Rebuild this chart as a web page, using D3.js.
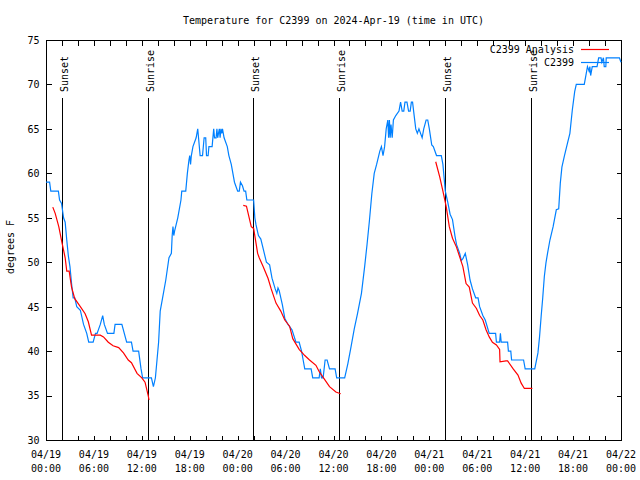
<!DOCTYPE html>
<html><head><meta charset="utf-8">
<script src="https://cdn.jsdelivr.net/npm/d3@7"></script>
<style>
body{margin:0;background:#fff;}
svg{display:block;}
text{font-family:"DejaVu Sans Mono","Liberation Mono",monospace;font-size:10px;fill:#000;}
</style></head>
<body>
<svg id="chart" width="640" height="480"></svg>
<script>
// ---- data (hours after 2024-04-19 00:00 UTC, degrees F) ----
const obsSeries = [[0,59],[0.45,59],[0.6,58],[1.55,58],[1.7,57],[1.95,56.6],[2.2,55],[2.4,54.5],[2.6,52.5],[2.8,50.7],[3.0,49.5],[3.2,47.6],[3.4,46],[3.6,46],[3.85,45],[4.3,44.6],[4.7,43],[5.1,42],[5.35,41],[5.9,41],[6.2,42],[6.4,42],[6.8,43],[7.1,44],[7.3,43],[7.7,42],[8.5,42],[8.65,43],[9.5,43],[10.1,41],[10.7,41],[10.9,40],[11.6,40],[11.9,38],[12.1,37],[13.2,37],[13.45,36],[13.7,37],[13.9,39],[14.1,41],[14.3,44.5],[14.6,46],[15.0,48],[15.4,50.5],[15.7,51],[15.8,53],[15.9,54],[16.0,53],[16.1,53.5],[16.5,55],[16.9,57],[17.0,58],[17.5,58],[17.7,60],[17.9,61.5],[18.0,62],[18.1,61],[18.2,62],[18.4,63],[18.8,64],[19.0,65],[19.1,64],[19.3,62],[19.6,62],[19.8,64],[20.0,64],[20.1,62],[20.3,62],[20.4,63],[20.8,63],[21.0,65],[21.1,64],[21.3,64],[21.4,65],[21.5,64],[21.7,65],[21.8,64],[21.9,65],[22.0,64.5],[22.1,65],[22.3,64],[22.7,63],[22.9,62],[23.2,61],[23.6,59],[24.0,58],[24.2,58],[24.35,59],[24.6,58.6],[24.8,58],[25.0,58],[25.15,57],[26.0,57],[26.15,55],[26.3,54.2],[26.6,53],[26.9,52.6],[27.2,51.5],[27.6,50],[28.0,49.7],[28.3,48.2],[28.7,47],[28.9,46.5],[29.05,47.1],[29.2,46.8],[29.6,45.2],[29.9,43.7],[30.3,43],[30.8,42.4],[31.3,41],[31.7,41],[32.0,40],[32.2,39],[32.4,38],[33.2,38],[33.4,37],[34.2,37],[34.35,38],[34.5,37],[34.7,37],[34.95,39],[35.2,39],[35.5,38],[36.2,38],[36.4,37],[37.4,37],[37.8,38.6],[38.2,40.5],[38.6,42.5],[39.0,44.2],[39.5,46.5],[39.9,49.5],[40.2,52],[40.5,54.7],[40.8,57.7],[41.1,60],[41.4,61],[41.8,62.5],[42.0,63],[42.2,62],[42.4,63],[42.6,65],[42.8,66],[42.9,64],[43.0,66],[43.1,64],[43.2,65.5],[43.35,64],[43.5,66],[43.8,66.5],[44.2,67],[44.4,68],[44.6,67],[44.8,67],[44.95,68],[45.2,68],[45.4,67],[45.6,67],[45.75,68],[45.9,68],[46.1,66.5],[46.3,65],[46.5,64.5],[46.7,65],[46.9,64.5],[47.1,64],[47.3,65],[47.6,66],[47.8,66],[48.0,65],[48.3,63.2],[48.5,63],[48.9,62],[49.5,62],[49.7,61],[50.0,58],[50.3,56.8],[50.6,55.4],[50.9,54.8],[51.2,53],[51.4,52],[51.8,51],[52.0,50.2],[52.2,50.4],[52.5,51],[52.8,49.7],[53.1,48],[53.4,47],[53.8,46],[54.1,46],[54.3,45],[54.7,44],[55.0,43.5],[55.5,42],[56.3,42],[56.4,41],[56.8,41],[56.9,42],[57.0,41],[57.8,41],[57.9,40],[58.2,40],[58.3,39],[59.8,39],[60.0,38],[61.2,38],[61.6,39.8],[61.8,41.6],[62.0,43.9],[62.2,46],[62.4,48.4],[62.6,49.9],[62.8,51],[63.1,52.5],[63.5,54],[63.9,55.9],[64.2,56],[64.4,58.9],[64.6,60.7],[64.9,61.9],[65.3,63.4],[65.6,64.5],[65.9,67.1],[66.2,69.2],[66.4,70],[67.4,70],[67.6,71],[67.8,72],[68.0,71.5],[68.1,72],[68.2,71],[68.4,72],[69.0,72],[69.2,73],[69.5,73],[69.6,72.5],[69.8,73],[69.9,72],[70.1,72],[70.15,73],[71.8,73],[72,72.5]];

const anaNight1 = [[0.85,56.2],[1.15,55.5],[1.6,54],[2.0,52.2],[2.4,50.5],[2.6,49],[2.9,49],[3.2,47.2],[3.6,45.9],[4.3,45],[4.9,44.2],[5.3,43.3],[5.7,41.8],[6.8,41.8],[7.2,41.6],[7.8,41],[8.4,40.6],[9.1,40.4],[9.7,39.8],[10.3,39],[10.7,38.7],[11.4,37.5],[12.0,37],[12.4,36.5],[12.8,35],[12.9,34.5]];
const anaNight2 = [[24.7,56.4],[25.1,56.3],[25.7,54],[26.0,53.8],[26.5,51],[26.7,50.5],[27.2,49.5],[27.8,48.2],[28.2,47],[28.8,45.4],[29.4,44.5],[29.9,43.5],[30.5,42.8],[30.9,41.4],[31.7,40.2],[32.4,39.5],[33.0,39],[33.8,38.4],[34.2,37.7],[34.9,36.8],[35.5,36],[36.3,35.4],[36.9,35.2]];
const anaNight3 = [[48.8,61.3],[49.3,59.6],[49.7,58],[50.1,56.3],[50.5,54],[50.9,52.7],[51.4,51.7],[51.8,50.6],[52.2,49.5],[52.6,47.6],[53.0,47.2],[53.4,45.4],[53.9,44.8],[54.3,44],[54.7,43.5],[55.1,42.4],[55.5,41.6],[55.9,41],[56.4,40.7],[56.8,40.2],[56.85,38.8],[57.6,38.9],[57.8,38.9],[58.5,38],[59.1,37.3],[59.5,36.4],[59.9,35.8],[60.9,35.8]];

const eventNames = ["Sunset","Sunrise","Sunset","Sunrise","Sunset","Sunrise"];
const eventHours = [1.97, 12.72, 25.98, 36.65, 50.02, 60.68];

const yTickValues = [30,35,40,45,50,55,60,65,70,75];
const xDateLabels = ["04/19","04/19","04/19","04/19","04/20","04/20","04/20","04/20","04/21","04/21","04/21","04/21","04/22"];
const xTimeLabels = ["00:00","06:00","12:00","18:00","00:00","06:00","12:00","18:00","00:00","06:00","12:00","18:00","00:00"];
const seriesNames = ["C2399 Analysis","C2399"];
const seriesColors = ["#ff0000","#0080ff"];
const titleText = "Temperature for C2399 on 2024-Apr-19 (time in UTC)";
const yAxisTitle = "degrees F";

// ---- chart ----
const T0 = Date.UTC(2024,3,19,0,0,0);
const toDate = h => new Date(T0 + h*3600e3);
const L = 46, R = 621, TOP = 40, BOT = 440;
const x = d3.scaleUtc().domain([toDate(0), toDate(72)]).range([L, R]);
const y = d3.scaleLinear().domain([30,75]).range([BOT, TOP]);

const svg = d3.select("#chart");

// title
svg.append("text").attr("x", (L+R)/2).attr("y", 24).attr("text-anchor","middle").text(titleText);

// y axis title
svg.append("text").attr("transform","translate(14,247) rotate(-90)").attr("text-anchor","middle").text(yAxisTitle);

const tickHours = d3.range(0, 73, 2).map(toDate);

// axes with inward ticks
const gB = svg.append("g").attr("transform",`translate(0,${BOT+0.5})`)
  .call(d3.axisBottom(x).tickValues(tickHours).tickSize(-5).tickFormat(""));
const gT = svg.append("g").attr("transform",`translate(0,${TOP+0.5})`)
  .call(d3.axisTop(x).tickValues(tickHours).tickSize(-5).tickFormat(""));
const gL = svg.append("g").attr("transform",`translate(${L+0.5},0)`)
  .call(d3.axisLeft(y).tickValues(yTickValues).tickSize(-5).tickPadding(7).tickFormat(d3.format("d")));
const gR = svg.append("g").attr("transform",`translate(${R+0.5},0)`)
  .call(d3.axisRight(y).tickValues(yTickValues).tickSize(-5).tickFormat(""));
[gB,gT,gL,gR].forEach(g=>{
  g.select(".domain").remove();
  g.selectAll(".tick line").attr("stroke","#000").attr("shape-rendering","crispEdges");
  g.selectAll("text").attr("font-family",null).attr("font-size",null).attr("fill","#000");
});
gL.selectAll(".tick text").attr("dy","0.34em");

// frame
svg.append("rect").attr("x",L+0.5).attr("y",TOP+0.5).attr("width",R-L).attr("height",BOT-TOP)
  .attr("fill","none").attr("stroke","#000").attr("shape-rendering","crispEdges");

// bottom labels (every 6 h)
const labelHours = d3.range(0, 73, 6);
const lab = svg.append("g");
labelHours.forEach((h,i)=>{
  const t = lab.append("text").attr("text-anchor","middle");
  t.append("tspan").attr("x", x(toDate(h))).attr("y", 457.5).text(xDateLabels[i]);
  t.append("tspan").attr("x", x(toDate(h))).attr("y", 471.5).text(xTimeLabels[i]);
});

// event lines
eventHours.forEach((h,i)=>{
  const xe = Math.round(x(toDate(h))) + 0.5;
  svg.append("line").attr("x1",xe).attr("x2",xe).attr("y1",98).attr("y2",BOT)
    .attr("stroke","#000").attr("shape-rendering","crispEdges");
  svg.append("text").attr("transform",`translate(${xe+5},92) rotate(-90)`)
    .attr("text-anchor","start").text(eventNames[i]);
});

const line = d3.line().x(d=>x(toDate(d[0]))).y(d=>y(d[1]));

// observations
svg.append("path").datum(obsSeries).attr("d",line).attr("fill","none")
  .attr("stroke",seriesColors[1]).attr("stroke-width",1.2);
// analysis
[anaNight1, anaNight2, anaNight3].forEach(seg=>{
  svg.append("path").datum(seg).attr("d",line).attr("fill","none")
    .attr("stroke",seriesColors[0]).attr("stroke-width",1.2);
});

// legend
const legRows = [49.5, 62.5];
seriesNames.forEach((n,i)=>{
  svg.append("text").attr("x",574).attr("y",legRows[i]).attr("dy","0.35em").attr("text-anchor","end").text(n);
  svg.append("line").attr("x1",581).attr("x2",609).attr("y1",legRows[i]).attr("y2",legRows[i])
    .attr("stroke",seriesColors[i]).attr("stroke-width",1.2);
});
</script>
</body></html>
